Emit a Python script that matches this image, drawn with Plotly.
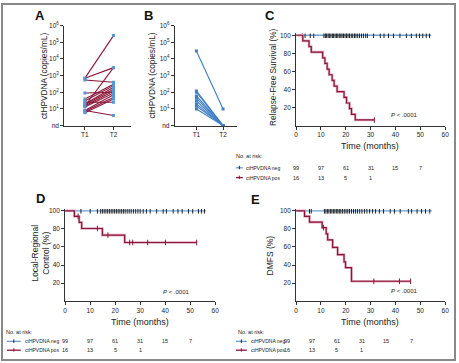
import plotly.graph_objects as go

W, H = 459, 363
FONT = "Liberation Sans, Arial, sans-serif"
BLUE = "#6a9fd4"
DBLUE = "#3f7fc4"
MAROON = "#8a1538"
HALO = "#e2aabd"
INK = "#222222"

# ---------------- Data ----------------
timepoints = ["T1", "T2"]
# Panel A: ctHPVDNA (copies/mL), nd plotted at 1
a_t1 = [700, 700, 550, 15, 90, 40, 30, 20, 18, 15, 13, 8, 7, 6, 25, 8]
a_t2 = [250000, 3000, 400, 3000, 100, 300, 250, 200, 150, 120, 90, 70, 50, 40, 25, 4]
# Panel B
b_t1 = [30000, 120, 100, 60, 45, 30, 20, 15, 10]
b_t2 = [10, 1, 1, 1, 1, 1, 1, 1, 1]
log_tickvals = [1, 10, 100, 1000, 10000, 100000, 1000000]
log_ticktext = ["nd", "10<sup>1</sup>", "10<sup>2</sup>", "10<sup>3</sup>",
                "10<sup>4</sup>", "10<sup>5</sup>", "10<sup>6</sup>"]

# Panel C: relapse-free survival
c_pos_t = [0, 2.7, 5.2, 6.1, 10.7, 11.6, 12.5, 13.3, 14.5, 15.3, 16.5, 19.3, 20.3, 21.5, 22.3, 23.8, 31.5]
c_pos_s = [100, 93.75, 87.5, 81.25, 75, 68.75, 62.5, 56.25, 50, 43.75, 37.5, 31.25, 25, 18.75, 12.5, 6.25, 6.25]
c_pos_cens = [31.5]
c_neg_t = [0, 54.4]
c_neg_s = [100, 100]
c_neg_cens = [2.5, 3.6, 5.7, 7.1, 11.2, 11.8, 12.3, 12.9, 13.4, 14.0, 14.6, 15.1, 15.7, 16.3,
              16.8, 17.4, 18.0, 18.5, 19.1, 19.7, 20.3, 20.9, 21.5, 22.2, 22.8, 23.5, 24.1,
              24.8, 25.5, 26.3, 27.1, 28.0, 28.7, 31.2, 33.9, 35.4, 37.2, 39.2, 41.8, 44.4,
              46.4, 48.4, 49.7, 51.0, 52.4, 53.7]

# Panel D: local-regional control
d_pos_t = [0, 3.7, 5.6, 6.6, 14.9, 23.8, 52.6]
d_pos_s = [100, 93.8, 87.1, 80.4, 73.1, 64.9, 64.9]
d_pos_cens = [5.2, 12.9, 17.1, 25.8, 27.0, 33.0, 40.1, 52.6]
d_neg_t = [0, 56.3]
d_neg_s = [100, 100]
d_neg_cens = [6.3, 10.0, 12.9, 14.2, 14.9, 15.6, 16.3, 17.0, 17.7, 18.4, 19.1, 19.8, 20.5,
              21.2, 21.9, 22.6, 23.3, 24.0, 24.8, 25.6, 26.4, 27.3, 28.2, 29.1, 30.0, 31.2,
              32.5, 34.0, 36.6, 39.2, 40.5, 43.2, 45.1, 46.8, 49.3, 51.0, 53.3, 54.5, 55.7]

# Panel E: DMFS
e_pos_t = [0, 3.4, 5.4, 10.5, 12.1, 12.7, 14.7, 16.7, 19.3, 19.9, 22.3, 46.1]
e_pos_s = [100, 93.8, 87.5, 81.3, 74.5, 67.7, 59.4, 51.5, 43.5, 37.0, 22.0, 22.0]
e_pos_cens = [11.0, 31.3, 41.6, 46.1]
e_neg_t = [0, 54.7]
e_neg_s = [100, 100]
e_neg_cens = [5.4, 6.1, 11.4, 12.0, 12.6, 13.2, 13.8, 14.4, 15.0, 15.6, 16.2, 16.8, 17.4,
              18.0, 18.7, 19.4, 20.1, 20.8, 21.5, 22.3, 23.1, 23.9, 24.7, 25.6, 26.5, 27.5,
              28.5, 29.6, 30.8, 32.0, 33.5, 35.2, 37.9, 39.6, 41.9, 45.2, 46.5, 48.7, 50.5,
              52.1, 53.8]

risk_times = [0, 10, 20, 30, 40, 50]
risk_neg = [99, 97, 61, 31, 15, 7]
risk_pos = [16, 13, 5, 1]
series_names = ["ctHPVDNA neg", "ctHPVDNA pos"]
km_ticks_x = [0, 10, 20, 30, 40, 50, 60]
km_ticks_y = [20, 40, 60, 80, 100]


def px(x):
    return x / W


def py(y):
    return 1 - y / H


def km_at(t, times, surv):
    val = surv[0]
    for ti, si in zip(times, surv):
        if ti <= t:
            val = si
    return val


fig = go.Figure()

# Panel A lines
for v1, v2 in zip(a_t1, a_t2):
    fig.add_trace(go.Scatter(x=timepoints, y=[v1, v2], xaxis="x", yaxis="y", mode="lines+markers",
                             line=dict(color=MAROON, width=1.1),
                             marker=dict(symbol="square", size=3, color="#5b93d3"),
                             showlegend=False, hoverinfo="skip"))
# Panel B lines
for v1, v2 in zip(b_t1, b_t2):
    fig.add_trace(go.Scatter(x=timepoints, y=[v1, v2], xaxis="x2", yaxis="y2", mode="lines+markers",
                             line=dict(color=DBLUE, width=1.1),
                             marker=dict(symbol="square", size=3, color=DBLUE),
                             showlegend=False, hoverinfo="skip"))


def add_km(xa, ya, nt, ns, ncens, pt, ps, pcens):
    fig.add_trace(go.Scatter(x=nt, y=ns, xaxis=xa, yaxis=ya, mode="lines", line_shape="hv",
                             line=dict(color=BLUE, width=1.3), showlegend=False, hoverinfo="skip"))
    fig.add_trace(go.Scatter(x=ncens, y=[km_at(t, nt, ns) for t in ncens], xaxis=xa, yaxis=ya,
                             mode="markers", marker=dict(symbol="line-ns-open", size=4, color=INK,
                                                          line=dict(color=INK, width=1)),
                             showlegend=False, hoverinfo="skip"))
    fig.add_trace(go.Scatter(x=pt, y=ps, xaxis=xa, yaxis=ya, mode="lines", line_shape="hv",
                             line=dict(color=HALO, width=2.6), showlegend=False, hoverinfo="skip"))
    fig.add_trace(go.Scatter(x=pt, y=ps, xaxis=xa, yaxis=ya, mode="lines", line_shape="hv",
                             line=dict(color=MAROON, width=1.2), showlegend=False, hoverinfo="skip"))
    fig.add_trace(go.Scatter(x=pcens, y=[km_at(t, pt, ps) for t in pcens], xaxis=xa, yaxis=ya,
                             mode="markers", marker=dict(symbol="line-ns-open", size=4, color=MAROON,
                                                          line=dict(color=MAROON, width=1)),
                             showlegend=False, hoverinfo="skip"))


add_km("x3", "y3", c_neg_t, c_neg_s, c_neg_cens, c_pos_t, c_pos_s, c_pos_cens)
add_km("x4", "y4", d_neg_t, d_neg_s, d_neg_cens, d_pos_t, d_pos_s, d_pos_cens)
add_km("x5", "y5", e_neg_t, e_neg_s, e_neg_cens, e_pos_t, e_pos_s, e_pos_cens)

axis_common = dict(showline=True, linecolor="#333", linewidth=1, ticks="outside", ticklen=3,
                   tickwidth=1, tickcolor="#333", showgrid=False, zeroline=False,
                   tickfont=dict(family=FONT, size=6.5, color=INK), fixedrange=True)

yA = [py(124), py(22)]
yC = [py(124), py(30)]
yD = [py(303), py(209)]

fig.update_layout(
    width=W, height=H, margin=dict(l=0, r=0, t=0, b=0),
    paper_bgcolor="white", plot_bgcolor="white", showlegend=False,
    font=dict(family=FONT, color=INK),
    xaxis=dict(axis_common, domain=[px(63), px(131)], type="category", range=[-0.724, 1.621],
               anchor="y"),
    yaxis=dict(axis_common, domain=yA, type="log", range=[0, 6], tickvals=log_tickvals,
               ticktext=log_ticktext, anchor="x"),
    xaxis2=dict(axis_common, domain=[px(175), px(238)], type="category", range=[-0.815, 1.519],
                anchor="y2"),
    yaxis2=dict(axis_common, domain=yA, type="log", range=[0, 6], tickvals=log_tickvals,
                ticktext=log_ticktext, anchor="x2"),
    xaxis3=dict(axis_common, domain=[px(298), px(449)], range=[0, 60], tickvals=km_ticks_x, anchor="y3"),
    yaxis3=dict(axis_common, domain=yC, range=[0, 102], tickvals=km_ticks_y, anchor="x3"),
    xaxis4=dict(axis_common, domain=[px(64), px(216)], range=[0, 60], tickvals=km_ticks_x, anchor="y4"),
    yaxis4=dict(axis_common, domain=yD, range=[0, 102], tickvals=km_ticks_y, anchor="x4"),
    xaxis5=dict(axis_common, domain=[px(298), px(449)], range=[0, 60], tickvals=km_ticks_x, anchor="y5"),
    yaxis5=dict(axis_common, domain=yD, range=[0, 102], tickvals=km_ticks_y, anchor="x5"),
)

ann = []


def text(x, y, s, size=7, xanchor="center", angle=0, bold=False, xref="paper", xshift=0):
    ann.append(dict(x=x if xref != "paper" else px(x), y=py(y), xref=xref, yref="paper", text=s,
                    showarrow=False, xanchor=xanchor, yanchor="middle", textangle=angle,
                    xshift=xshift,
                    font=dict(family=FONT, size=size, color="#111" if bold else INK,
                              weight="bold" if bold else "normal")))


# panel letters
for lab, x, y in [("A", 38, 12), ("B", 148, 12), ("C", 272, 12), ("D", 39, 198), ("E", 257, 199)]:
    text(x, y, lab, size=13, bold=True)

# axis titles
text(42, 73, "ctHPVDNA (copies/mL)", size=8.3, angle=-90)
text(152, 73, "ctHPVDNA (copies/mL)", size=8.3, angle=-90)
text(274, 74, "Relapse-Free Survival (%)", size=8.3, angle=-90)
text(39, 254, "Local-Regional<br>Control (%)", size=8.5, angle=-90)
text(272, 256, "DMFS (%)", size=8.5, angle=-90)
text(373, 145, "Time (months)", size=9)
text(140, 324, "Time (months)", size=9)
text(373, 324, "Time (months)", size=9)

# P values
text(408, 113, "<i>P</i> < .0001", size=6)
text(177, 294, "<i>P</i> < .0001", size=6)
text(408, 293, "<i>P</i> < .0001", size=6)

# risk tables
shapes = []
tables = [
    ("x3", 235, 155, 167, 177, 237, 244, 245, 0),
    ("x4", 2, 334, 344, 353, 5, 19, 21, 0),
    ("x5", 237, 334, 344, 353, 237, 248, 250, -9),
]
for xa, tx, ty, yneg, ypos, g0, g1, lx, sh in tables:
    text(tx, ty, "No. at risk:", size=5.5, xanchor="left")
    for name, yy, col, vals in [(series_names[0], yneg, BLUE, risk_neg),
                                (series_names[1], ypos, MAROON, risk_pos)]:
        shapes.append(dict(type="line", xref="paper", yref="paper", x0=px(g0), x1=px(g1),
                           y0=py(yy), y1=py(yy), line=dict(color=col, width=1.3)))
        gm = (g0 + g1) / 2
        shapes.append(dict(type="line", xref="paper", yref="paper", x0=px(gm), x1=px(gm),
                           y0=py(yy - 2), y1=py(yy + 1.5),
                           line=dict(color=INK if col == BLUE else col, width=1)))
        text(lx, yy, name, size=5, xanchor="left")
        for t, v in zip(risk_times, vals):
            text(t, yy, str(v), size=5.5, xref=xa, xshift=sh)

# outer frame
shapes.append(dict(type="rect", xref="paper", yref="paper", x0=0, x1=1, y0=0, y1=1,
                   line=dict(color="#888", width=2)))

fig.update_layout(annotations=ann, shapes=shapes)
fig.write_html("out.html", config={"displayModeBar": False, "staticPlot": True},
               post_script="document.body.style.margin='0';document.body.style.overflow='hidden';")
